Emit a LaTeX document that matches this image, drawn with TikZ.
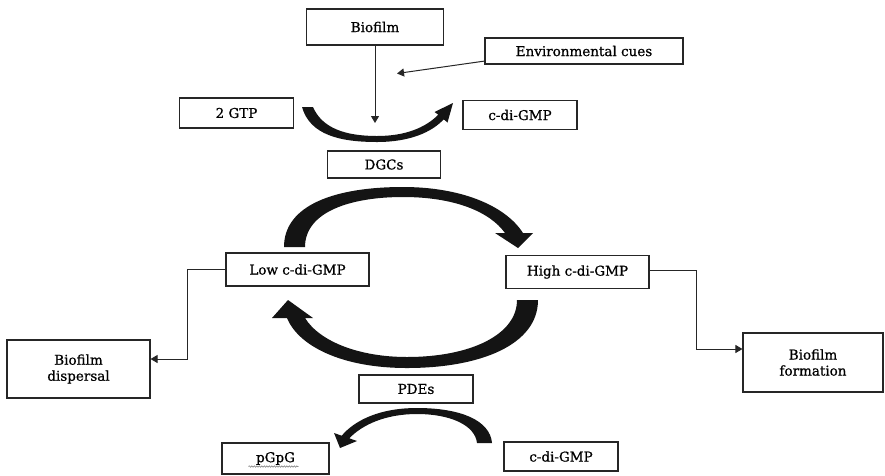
\documentclass[tikz,border=0pt]{standalone}
\usepackage{fontspec}
\setmainfont[FakeBold=0.8]{DejaVu Serif}
\usetikzlibrary{arrows.meta,decorations.pathmorphing}
\begin{document}
\begin{tikzpicture}[x=1pt,y=-1pt,
  box/.style={draw=black!85,line width=1.1pt,inner sep=0pt,align=center,font=\fontsize{13.5}{16}\selectfont},
  conn/.style={draw=black!85,line width=1pt,-{Triangle[width=8pt,length=7pt]}},
  bigarrow/.style={fill=black!92,draw=none}]
\useasboundingbox (0,0) rectangle (885,475);
\fill[white] (0,0) rectangle (885,475);
% nodes
\node[box,minimum width=137pt,minimum height=36pt] (bio) at (375,27) {Biofilm};
\node[box,minimum width=198pt,minimum height=26pt] (env) at (584,51) {Environmental cues};
\node[box,minimum width=114pt,minimum height=30pt] (gtp) at (236.5,113) {2 GTP};
\node[box,minimum width=114pt,minimum height=29pt] (cdg1) at (520,115) {c-di-GMP};
\node[box,minimum width=113pt,minimum height=27pt] (dgc) at (384,164.5) {DGCs};
\node[box,minimum width=143pt,minimum height=33pt] (low) at (297.5,269.5) {Low c-di-GMP};
\node[box,minimum width=143pt,minimum height=33pt] (high) at (577.5,272) {High c-di-GMP};
\node[box,minimum width=114pt,minimum height=28pt] (pde) at (416,389) {PDEs};
\node[box,minimum width=143pt,minimum height=58pt] (disp) at (78.5,369) {Biofilm\\dispersal};
\node[box,minimum width=140pt,minimum height=59pt] (form) at (813,362.5) {Biofilm\\formation};
\node[box,minimum width=107pt,minimum height=31pt] (pgpg) at (275.5,458.5) {pGpG};
\node[box,minimum width=114pt,minimum height=29pt] (cdg2) at (561,456.5) {c-di-GMP};
% thin connectors
\coordinate (vt) at (375,123);
\coordinate (et) at (397,73.5);
\coordinate (es) at (485,61);
\draw[conn] (bio.south) -- (vt);
\draw[conn] (es) -- (et);
\draw[conn] (low.west) -- ++(-37.5,0) |- ([yshift=10pt]disp.east);
\draw[conn] ([yshift=2pt]high.east) -- ++(47,0) |- ([yshift=13.5pt]form.west);
% small DGC arc
\fill[bigarrow] (302,107) .. controls (310,135) and (340,142) .. (377,142)
  .. controls (410,142) and (432,132) .. (443.7,119.3) -- (447.5,122.5) -- (453,103) -- (434.5,112) -- (438.3,114.7)
  .. controls (425,128) and (405,136) .. (377,136)
  .. controls (345,136) and (322,128) .. (313,107) -- cycle;
% big top arc
\fill[bigarrow] (284,247) .. controls (284,205) and (335,187) .. (403,187)
  .. controls (460,187) and (505,205) .. (523,233) -- (533,233) -- (518,248) -- (495,233) -- (505,233)
  .. controls (490,212) and (455,197) .. (403,197)
  .. controls (350,197) and (305,212) .. (305,247) -- cycle;
% big bottom arc
\fill[bigarrow] (538,300) .. controls (538,345) and (480,368) .. (407,368)
  .. controls (340,368) and (298,345) .. (287,318) -- (272,318) -- (288,300) -- (313,318) -- (305,318)
  .. controls (320,342) and (360,357) .. (407,357)
  .. controls (470,357) and (517,335) .. (517,300) -- cycle;
% small PDE arc
\fill[bigarrow] (492,443) .. controls (490,420) and (460,408) .. (417,408)
  .. controls (380,408) and (355,420) .. (341.7,435.7) -- (334,433) -- (340,448) -- (357,441) -- (349.3,438.3)
  .. controls (362,425) and (385,414) .. (417,414)
  .. controls (450,414) and (475,425) .. (477,443) -- cycle;
% spell-check squiggle under pGpG
\draw[black!55,line width=0.5pt,decorate,decoration={snake,amplitude=0.7pt,segment length=2.5pt}]
  ([xshift=-27pt,yshift=-8pt]pgpg.center) -- ([xshift=23pt,yshift=-8pt]pgpg.center);
\end{tikzpicture}
\end{document}
